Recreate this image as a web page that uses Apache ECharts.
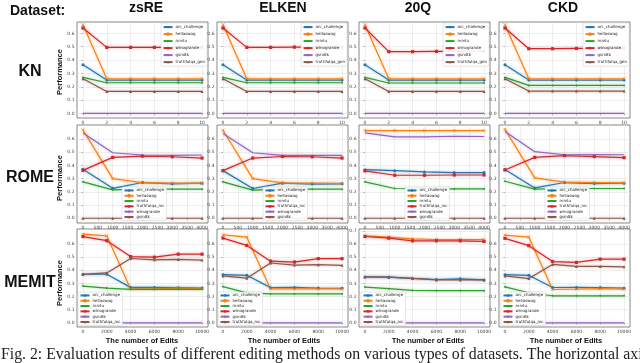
<!DOCTYPE html>
<html><head><meta charset="utf-8">
<script src="https://cdn.jsdelivr.net/npm/echarts@6/dist/echarts.min.js"></script>
<style>html,body{margin:0;padding:0;background:#fff;}#c{width:640px;height:363px;}</style>
</head><body><div id="c"></div>
<script>
// ---------- data ----------
const DATASETS = ['zsRE', 'ELKEN', '20Q', 'CKD'];
const METHODS = ['KN', 'ROME', 'MEMIT'];
const KN_X = [0, 2, 4, 6, 8, 10];
const ROME_X = [0, 1000, 2000, 3000, 4000];
const MEMIT_X = [0, 2000, 4000, 6000, 8000, 10000];
const KN_XTICKS = [0, 2, 4, 6, 8, 10];
const ROME_XTICKS = [0, 500, 1000, 1500, 2000, 2500, 3000, 3500, 4000];
const MEMIT_XTICKS = [0, 2000, 4000, 6000, 8000, 10000];
const Y_TICKS = [0, 0.1, 0.2, 0.3, 0.4, 0.5, 0.6];
const Y_TICKS_TALL = [0, 0.1, 0.2, 0.3, 0.4, 0.5, 0.6, 0.7];
const KN_NAMES = ['arc_challenge', 'hellaswag', 'mmlu', 'winogrande', 'gsm8k', 'truthfulqa_gen'];
const ROME_NAMES = ['arc_challenge', 'hellaswag', 'mmlu', 'truthfulqa_mc', 'winogrande', 'gsm8k'];
const MEMIT_NAMES = ['arc_challenge', 'hellaswag', 'mmlu', 'winogrande', 'gsm8k', 'truthfulqa_mc'];

const KN_zsRE = [
  [0.365, 0.25, 0.25, 0.25, 0.25, 0.25],
  [0.665, 0.26, 0.26, 0.26, 0.26, 0.26],
  [0.27, 0.23, 0.23, 0.23, 0.23, 0.23],
  [0.64, 0.495, 0.495, 0.495, 0.495, 0.497],
  [0, 0, 0, 0, 0, 0],
  [0.26, 0.165, 0.165, 0.165, 0.165, 0.165]];
const KN_ELKEN = [
  [0.365, 0.25, 0.25, 0.25, 0.25, 0.25],
  [0.665, 0.26, 0.26, 0.26, 0.26, 0.26],
  [0.27, 0.23, 0.23, 0.23, 0.23, 0.23],
  [0.64, 0.495, 0.495, 0.497, 0.497, 0.497],
  [0, 0, 0, 0, 0, 0],
  [0.26, 0.165, 0.165, 0.165, 0.165, 0.165]];
const KN_20Q = [
  [0.365, 0.25, 0.25, 0.25, 0.25, 0.25],
  [0.665, 0.26, 0.26, 0.26, 0.26, 0.26],
  [0.27, 0.228, 0.228, 0.228, 0.228, 0.228],
  [0.64, 0.463, 0.463, 0.465, 0.465, 0.468],
  [0, 0, 0, 0, 0, 0],
  [0.26, 0.165, 0.165, 0.165, 0.165, 0.165]];
const KN_CKD = [
  [0.365, 0.25, 0.25, 0.25, 0.25, 0.25],
  [0.665, 0.26, 0.26, 0.26, 0.26, 0.26],
  [0.27, 0.21, 0.21, 0.21, 0.21, 0.21],
  [0.64, 0.485, 0.485, 0.487, 0.487, 0.487],
  [0, 0, 0, 0, 0, 0],
  [0.26, 0.168, 0.168, 0.168, 0.168, 0.168]];

const ROME_zsRE = [
  [0.37, 0.226, 0.27, 0.26, 0.265],
  [0.668, 0.30, 0.27, 0.265, 0.265],
  [0.275, 0.215, 0.22, 0.22, 0.22],
  [0.362, 0.46, 0.47, 0.465, 0.455],
  [0.645, 0.495, 0.478, 0.475, 0.478],
  [0, 0, 0, 0, 0]];
const ROME_ELKEN = [
  [0.36, 0.225, 0.265, 0.258, 0.26],
  [0.665, 0.30, 0.268, 0.265, 0.263],
  [0.275, 0.213, 0.22, 0.22, 0.22],
  [0.36, 0.455, 0.467, 0.465, 0.455],
  [0.64, 0.495, 0.475, 0.475, 0.475],
  [0, 0, 0, 0, 0]];
const ROME_20Q = [
  [0.367, 0.36, 0.35, 0.345, 0.345],
  [0.663, 0.662, 0.662, 0.662, 0.662],
  [0.275, 0.225, 0.222, 0.222, 0.222],
  [0.358, 0.325, 0.325, 0.327, 0.327],
  [0.645, 0.615, 0.615, 0.62, 0.618],
  [0, 0, 0, 0, 0]];
const ROME_CKD = [
  [0.368, 0.229, 0.27, 0.262, 0.265],
  [0.672, 0.305, 0.273, 0.27, 0.267],
  [0.28, 0.22, 0.225, 0.225, 0.225],
  [0.365, 0.46, 0.474, 0.466, 0.458],
  [0.655, 0.503, 0.48, 0.482, 0.48],
  [0, 0, 0, 0, 0]];

const MEMIT_zsRE = [
  [0.37, 0.37, 0.27, 0.27, 0.268, 0.265],
  [0.676, 0.663, 0.258, 0.258, 0.265, 0.26],
  [0.28, 0.265, 0.255, 0.255, 0.255, 0.255],
  [0.657, 0.626, 0.505, 0.5, 0.523, 0.523],
  [0, 0, 0, 0, 0, 0],
  [0.369, 0.38, 0.49, 0.48, 0.483, 0.478]];
const MEMIT_ELKEN = [
  [0.367, 0.362, 0.268, 0.27, 0.265, 0.263],
  [0.67, 0.653, 0.258, 0.258, 0.258, 0.258],
  [0.276, 0.228, 0.22, 0.22, 0.22, 0.22],
  [0.646, 0.59, 0.47, 0.463, 0.489, 0.489],
  [0, 0, 0, 0, 0, 0],
  [0.357, 0.34, 0.456, 0.44, 0.443, 0.438]];
const MEMIT_20Q = [
  [0.35, 0.348, 0.338, 0.33, 0.335, 0.327],
  [0.663, 0.653, 0.64, 0.635, 0.635, 0.635],
  [0.272, 0.26, 0.247, 0.245, 0.245, 0.245],
  [0.658, 0.645, 0.625, 0.625, 0.625, 0.62],
  [0, 0, 0, 0, 0, 0],
  [0.35, 0.348, 0.338, 0.327, 0.327, 0.327]];
const MEMIT_CKD = [
  [0.367, 0.362, 0.269, 0.27, 0.269, 0.264],
  [0.668, 0.653, 0.254, 0.256, 0.26, 0.256],
  [0.274, 0.229, 0.206, 0.206, 0.206, 0.206],
  [0.644, 0.588, 0.467, 0.46, 0.485, 0.485],
  [0, 0, 0, 0, 0, 0],
  [0.357, 0.337, 0.445, 0.43, 0.43, 0.427]];

// ---------- layout / style ----------
const COLORS = ['#1f77b4', '#ff7f0e', '#2ca02c', '#d62728', '#9467bd', '#8c564b'];
const SYMBOLS = ['circle', 'path://M0,0L10,10M10,0L0,10', 'diamond', 'rect', 'none', 'triangle'];
const SYM_SIZE = [3, 3, 2.5, 3.2, 2, 3];
const COL_LEFT = [77, 217, 359, 499];
const COL_W = 131;
const ROW_TOP = [22, 125, 229];
const ROW_H = [96, 98, 98];
const ROWS = [
  { method: 'KN', names: KN_NAMES, xs: KN_X, xticks: KN_XTICKS, xmin: -0.5, xmax: 10.5, ymin: -0.034, ymax: 0.685,
    panels: [KN_zsRE, KN_ELKEN, KN_20Q, KN_CKD] },
  { method: 'ROME', names: ROME_NAMES, xs: ROME_X, xticks: ROME_XTICKS, xmin: -200, xmax: 4200, ymin: -0.036, ymax: 0.705,
    panels: [ROME_zsRE, ROME_ELKEN, ROME_20Q, ROME_CKD] },
  { method: 'MEMIT', names: MEMIT_NAMES, xs: MEMIT_X, xticks: MEMIT_XTICKS, xmin: -500, xmax: 10500, ymin: -0.032, ymax: 0.715,
    panels: [MEMIT_zsRE, MEMIT_ELKEN, MEMIT_20Q, MEMIT_CKD] }
];
const LEGEND_POS = [
  [{ right: 433, top: 23 }, { right: 293, top: 23 }, { right: 151, top: 23 }, { right: 11, top: 23 }],
  [{ left: 122, top: 187 }, { left: 263, top: 187 }, { left: 405, top: 187 }, { left: 545, top: 187 }],
  [{ left: 78, top: 292 }, { left: 218, top: 292 }, { left: 361, top: 292 }, { left: 501, top: 292 }]
];

function hexA(h, a) {
  const n = parseInt(h.slice(1), 16);
  return 'rgba(' + (n >> 16 & 255) + ',' + (n >> 8 & 255) + ',' + (n & 255) + ',' + a + ')';
}

const grids = [], xAxes = [], yAxes = [], series = [], legends = [];
const labelFont = { fontSize: 4.5, color: '#444', fontFamily: 'DejaVu Sans' };
ROWS.forEach((row, r) => {
  row.panels.forEach((vals, c) => {
    const idx = grids.length;
    grids.push({ left: COL_LEFT[c], top: ROW_TOP[r], width: COL_W, height: ROW_H[r],
      show: true, borderColor: '#555', borderWidth: 0.7, backgroundColor: '#fff' });
    xAxes.push({ type: 'value', gridIndex: idx, min: row.xmin, max: row.xmax,
      axisLine: { show: false },
      axisTick: { show: true, length: 1.5, lineStyle: { color: '#666', width: 0.5 }, customValues: row.xticks },
      axisLabel: { customValues: row.xticks, margin: 2.5, formatter: v => String(Math.round(v)), ...labelFont },
      splitLine: { show: true, lineStyle: { color: '#e2e2e2', width: 0.6 } } });
    const yt = (r === 2 && c === 2) ? Y_TICKS_TALL : Y_TICKS;
    yAxes.push({ type: 'value', gridIndex: idx, min: row.ymin, max: row.ymax,
      axisLine: { show: false },
      axisTick: { show: true, length: 1.5, lineStyle: { color: '#666', width: 0.5 }, customValues: yt },
      axisLabel: { customValues: yt, margin: 2.5, formatter: v => v.toFixed(1), ...labelFont },
      splitLine: { show: true, lineStyle: { color: '#e2e2e2', width: 0.6 } } });
    row.names.forEach((nm, i) => {
      series.push({ type: 'line', name: nm + '#' + row.method, xAxisIndex: idx, yAxisIndex: idx,
        data: row.xs.map((x, j) => [x, vals[i][j]]),
        color: COLORS[i], symbol: SYMBOLS[i], symbolSize: SYM_SIZE[i],
        itemStyle: { color: COLORS[i], borderColor: COLORS[i], borderWidth: i === 1 ? 0.8 : 0 },
        lineStyle: { width: 1.2, color: COLORS[i], shadowColor: hexA(COLORS[i], 0.5), shadowBlur: 3 },
        animation: false, silent: true });
    });
    const small = r > 0;
    legends.push(Object.assign({
      orient: 'vertical', data: row.names.map(n => n + '#' + row.method),
      formatter: n => n.split('#')[0], selectedMode: false,
      itemWidth: 9, itemHeight: 3, itemGap: small ? 0.8 : 1.8,
      padding: small ? [1.2, 2, 1.2, 1.5] : [1.5, 2, 1.5, 1.5],
      backgroundColor: 'rgba(255,255,255,0.9)', borderColor: '#ccc', borderWidth: 0.5, borderRadius: 1,
      textStyle: { fontSize: 4, lineHeight: small ? 4.5 : 5.2, color: '#222', fontFamily: 'DejaVu Sans', padding: [0, 0, 0, -2] }
    }, LEGEND_POS[r][c]));
  });
});

const boldFont = (sz) => 'bold ' + sz + 'px "Liberation Sans", Arial, sans-serif';
const graphics = [];
graphics.push({ type: 'text', x: 10, y: 11, style: { text: 'Dataset:', font: boldFont(14), fill: '#111', textVerticalAlign: 'middle', verticalAlign: 'middle' } });
const TITLE_X = [146, 283, 418, 563];
DATASETS.forEach((d, c) => graphics.push({ type: 'text', x: TITLE_X[c], y: 8, style: { text: d, font: boldFont(14), fill: '#111', textAlign: 'center', align: 'center', textVerticalAlign: 'middle', verticalAlign: 'middle' } }));
const ROWLABEL_Y = [72, 178, 283];
METHODS.forEach((m, r) => {
  graphics.push({ type: 'text', x: 30, y: ROWLABEL_Y[r], style: { text: m, font: boldFont(16), fill: '#111', textAlign: 'center', align: 'center', textVerticalAlign: 'middle', verticalAlign: 'middle' } });
  graphics.push({ type: 'text', x: 60, y: ROWLABEL_Y[r], rotation: Math.PI / 2, style: { text: 'Performance', font: boldFont(7.5), fill: '#111', textAlign: 'center', align: 'center', textVerticalAlign: 'middle', verticalAlign: 'middle' } });
});
const EDITS_X = [142, 284, 428, 566];
EDITS_X.forEach(x => graphics.push({ type: 'text', x: x, y: 341, style: { text: 'The number of Edits', font: boldFont(7.5), fill: '#111', textAlign: 'center', align: 'center', textVerticalAlign: 'middle', verticalAlign: 'middle' } }));
graphics.push({ type: 'text', x: 1, y: 355, style: { text: 'Fig. 2: Evaluation results of different editing methods on various types of datasets. The horizontal axis', font: '15.8px "Liberation Serif", "Times New Roman", serif', fill: '#222', textVerticalAlign: 'middle', verticalAlign: 'middle' } });

const chart = echarts.init(document.getElementById('c'), null, { renderer: 'canvas' });
chart.setOption({
  animation: false,
  backgroundColor: '#fff',
  grid: grids, xAxis: xAxes, yAxis: yAxes, series: series, legend: legends,
  graphic: graphics
});
</script></body></html>
